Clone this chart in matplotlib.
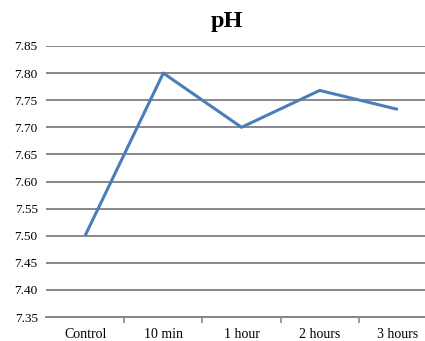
import matplotlib
matplotlib.use("Agg")
import matplotlib.pyplot as plt

categories = ["Control", "10 min", "1 hour", "2 hours", "3 hours"]
ph_values = [7.50, 7.80, 7.70, 7.768, 7.733]
y_ticks = [7.35, 7.40, 7.45, 7.50, 7.55, 7.60, 7.65, 7.70, 7.75, 7.80, 7.85]

plt.rcParams["font.family"] = ["Liberation Serif", "DejaVu Serif"]

fig = plt.figure(figsize=(4.25, 3.41), dpi=100)
ax = fig.add_axes([46 / 425, 1 - 317 / 341, (437 - 46) / 425, (317 - 46) / 341])

x = list(range(len(categories)))
ax.plot(x, ph_values, color="#4a7ebb", linewidth=2.2, solid_capstyle="butt", zorder=3)

ax.set_xlim(-0.5, len(categories) - 0.5)
ax.set_ylim(7.35, 7.85)
ax.set_yticks(y_ticks)
ax.set_yticklabels([f"{v:.2f}" for v in y_ticks], fontsize=9.5)
ax.grid(axis="y", color="#878787", linewidth=1.4)
ax.set_axisbelow(True)

# category labels centred, tick marks between categories
ax.set_xticks(x)
ax.set_xticklabels(categories, fontsize=10)
ax.tick_params(axis="x", length=0, pad=8)
ax.set_xticks([i + 0.5 for i in x[:-1]], minor=True)
ax.tick_params(axis="x", which="minor", length=4, width=1.2, color="#878787")
ax.tick_params(axis="y", length=0, pad=6)

for side in ["left", "right", "top"]:
    ax.spines[side].set_visible(False)
ax.spines["bottom"].set_color("#878787")
ax.spines["bottom"].set_linewidth(1.4)

fig.text(227 / 425, 1 - 21 / 341, "pH", fontsize=17.5, fontweight="bold",
         ha="center", va="center")

fig.savefig("out.png", dpi=100)
